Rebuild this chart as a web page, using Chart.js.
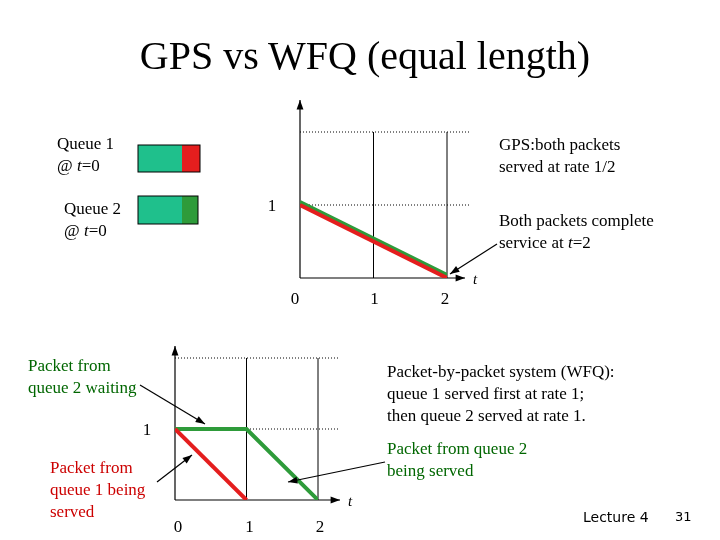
<!DOCTYPE html>
<html>
<head>
<meta charset="utf-8">
<script src="https://cdn.jsdelivr.net/npm/chart.js@4.4.0/dist/chart.umd.min.js"></script>
<style>
  body { margin: 0; background: #fff; }
  #wrap { position: relative; width: 720px; height: 540px; font-family: "Liberation Serif", serif; }
  canvas { position: absolute; left: 0; top: 0; }
  .t { position: absolute; font-size: 17px; line-height: 22px; color: #000; white-space: nowrap; }
</style>
</head>
<body>
<div id="wrap">
  <canvas id="top" width="720" height="540"></canvas>
  <canvas id="bottom" width="720" height="540"></canvas>
  <div class="t" style="left:0;width:730px;top:31px;text-align:center;font-size:40px;line-height:50px;">GPS vs WFQ (equal length)</div>
  <div class="t" style="left:57px;top:133px;">Queue 1<br>@ <i>t</i>=0</div>
  <div class="t" style="left:64px;top:198px;">Queue 2<br>@ <i>t</i>=0</div>
  <div class="t" style="left:499px;top:134px;">GPS:both packets<br>served at rate 1/2</div>
  <div class="t" style="left:499px;top:210px;">Both packets complete<br>service at <i>t</i>=2</div>
  <div class="t" style="left:28px;top:355px;color:#006600;">Packet from<br>queue 2 waiting</div>
  <div class="t" style="left:387px;top:361px;">Packet-by-packet system (WFQ):<br>queue 1 served first at rate 1;<br>then queue 2 served at rate 1.</div>
  <div class="t" style="left:387px;top:438px;color:#006600;">Packet from queue 2<br>being served</div>
  <div class="t" style="left:50px;top:457px;color:#cc0000;">Packet from<br>queue 1 being<br>served</div>
  <div class="t" style="left:583px;top:506px;font-family:'DejaVu Sans',sans-serif;font-size:14px;">Lecture 4</div>
  <div class="t" style="left:675px;top:506px;font-family:'DejaVu Sans',sans-serif;font-size:13px;">31</div>
</div>
<script>
// data
const gpsTimes = [0, 2];
const gpsQueue1 = [1, 0];
const gpsQueue2 = [1, 0];
const wfqTimes1 = [0, 1];
const wfqQueue1 = [1, 0];
const wfqTimes2 = [0, 1, 2];
const wfqQueue2 = [1, 1, 0];
const xTicks = [0, 1, 2];
const yTicks = [1];

const GREEN = "#2e9b3a";
const RED = "#e41e1e";
const TEAL = "#1fc08c";

function pts(xs, ys) {
  return xs.map((x, i) => ({ x: x, y: ys[i] }));
}

function arrow(ctx, x1, y1, x2, y2) {
  ctx.save();
  ctx.strokeStyle = "#000";
  ctx.fillStyle = "#000";
  ctx.lineWidth = 1.2;
  ctx.beginPath();
  ctx.moveTo(x1, y1);
  ctx.lineTo(x2, y2);
  ctx.stroke();
  const a = Math.atan2(y2 - y1, x2 - x1);
  ctx.beginPath();
  ctx.moveTo(x2, y2);
  ctx.lineTo(x2 - 10 * Math.cos(a - 0.35), y2 - 10 * Math.sin(a - 0.35));
  ctx.lineTo(x2 - 10 * Math.cos(a + 0.35), y2 - 10 * Math.sin(a + 0.35));
  ctx.closePath();
  ctx.fill();
  ctx.restore();
}

// axes, grid, labels drawn from the chart scales
function frame(opt) {
  return {
    id: "frame",
    beforeDatasetsDraw(chart) {
      const ctx = chart.ctx;
      const xs = chart.scales.x, ys = chart.scales.y;
      const x0 = xs.getPixelForValue(0), y0 = ys.getPixelForValue(0);
      const yTop = ys.getPixelForValue(2);
      ctx.save();
      ctx.strokeStyle = "#000";
      ctx.lineWidth = 1;
      ctx.setLineDash([1, 2]);
      [1, 2].forEach((v) => {
        ctx.beginPath();
        ctx.moveTo(x0, ys.getPixelForValue(v));
        ctx.lineTo(x0 + opt.dotLen, ys.getPixelForValue(v));
        ctx.stroke();
      });
      ctx.setLineDash([]);
      [1, 2].forEach((v) => {
        ctx.beginPath();
        ctx.moveTo(xs.getPixelForValue(v), yTop);
        ctx.lineTo(xs.getPixelForValue(v), y0);
        ctx.stroke();
      });
      ctx.restore();
      arrow(ctx, x0, y0, x0, yTop - opt.yExtra);
      arrow(ctx, x0, y0, x0 + opt.xLen, y0);
      ctx.save();
      ctx.font = "17px 'Liberation Serif'";
      ctx.fillStyle = "#000";
      ctx.textAlign = "center";
      xTicks.forEach((v) => {
        ctx.fillText(String(v), xs.getPixelForValue(v) + opt.tickDx[v], y0 + opt.tickDy);
      });
      yTicks.forEach((v) => {
        ctx.fillText(String(v), x0 - opt.yLabelDx, ys.getPixelForValue(v) + 6);
      });
      ctx.font = "italic 15px 'Liberation Serif'";
      ctx.fillText("t", x0 + opt.xLen + 10, y0 + opt.tDy);
      ctx.restore();
    },
    afterDraw(chart) {
      if (opt.extra) opt.extra(chart.ctx);
    }
  };
}

function makeChart(id, datasets, pad, opt) {
  new Chart(document.getElementById(id), {
    type: "scatter",
    data: { datasets: datasets },
    options: {
      responsive: false,
      animation: false,
      layout: { padding: pad },
      plugins: { legend: { display: false }, tooltip: { enabled: false } },
      scales: {
        x: { type: "linear", min: 0, max: 2, display: false },
        y: { type: "linear", min: 0, max: 2, display: false }
      }
    },
    plugins: [frame(opt)]
  });
}

function line(data, color) {
  return { data: data, showLine: true, borderColor: color, borderWidth: 4, pointRadius: 0, fill: false };
}

// top: GPS
makeChart("top",
  [line(pts(gpsTimes, gpsQueue1), RED),
   { ...line(pts(gpsTimes, gpsQueue2), GREEN), data: pts(gpsTimes, gpsQueue2).map((p) => ({ x: p.x, y: p.y + 0.04 })) }],
  { left: 300, right: 273, top: 132, bottom: 262 },
  {
    dotLen: 170, yExtra: 32, xLen: 165, tickDx: { 0: -5, 1: 1, 2: -2 }, tickDy: 26, yLabelDx: 28, tDy: 6,
    extra(ctx) {
      ctx.fillStyle = TEAL; ctx.fillRect(138, 145, 44, 27);
      ctx.fillStyle = RED; ctx.fillRect(182, 145, 18, 27);
      ctx.fillStyle = TEAL; ctx.fillRect(138, 196, 44, 28);
      ctx.fillStyle = GREEN; ctx.fillRect(182, 196, 16, 28);
      ctx.strokeStyle = "#000"; ctx.lineWidth = 1;
      ctx.strokeRect(138, 145, 62, 27);
      ctx.strokeRect(138, 196, 60, 28);
      arrow(ctx, 497, 244, 450, 274);
    }
  });

// bottom: WFQ
makeChart("bottom",
  [line(pts(wfqTimes1, wfqQueue1), RED), line(pts(wfqTimes2, wfqQueue2), GREEN)],
  { left: 175, right: 402, top: 358, bottom: 40 },
  {
    dotLen: 165, yExtra: 12, xLen: 165, tickDx: { 0: 3, 1: 3, 2: 2 }, tickDy: 32, yLabelDx: 28, tDy: 6,
    extra(ctx) {
      arrow(ctx, 140, 385, 205, 424);
      arrow(ctx, 157, 482, 192, 455);
      arrow(ctx, 385, 462, 288, 482);
    }
  });
</script>
</body>
</html>
